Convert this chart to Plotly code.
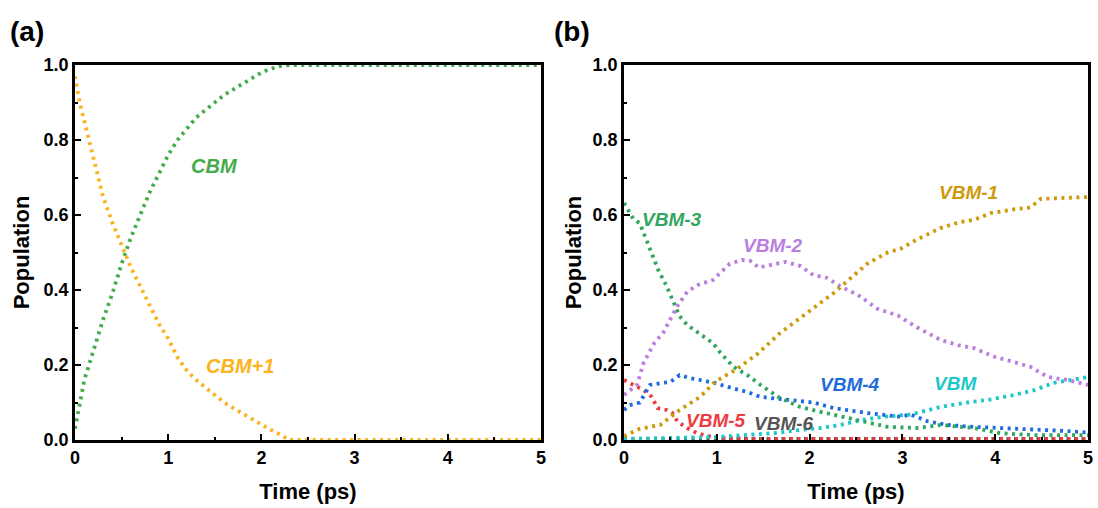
import plotly.graph_objects as go

# ---------------- Panel (a) ----------------
t_cbm = [0, 0.05, 0.1, 0.2, 0.3, 0.4, 0.5, 0.6, 0.7, 0.8, 0.9, 1.0, 1.1, 1.2, 1.3,
         1.4, 1.5, 1.6, 1.7, 1.8, 1.9, 2.0, 2.1, 2.2, 2.3, 5.0]
cbm = [0.03, 0.10, 0.16, 0.24, 0.32, 0.39, 0.47, 0.54, 0.60, 0.66, 0.71, 0.76, 0.80, 0.83, 0.86,
       0.88, 0.90, 0.92, 0.935, 0.95, 0.965, 0.98, 0.99, 0.997, 1.0, 1.0]

t_cbm1 = [0, 0.05, 0.1, 0.15, 0.2, 0.3, 0.4, 0.5, 0.6, 0.7, 0.8, 0.9, 1.0, 1.1, 1.2, 1.3,
          1.4, 1.5, 1.6, 1.7, 1.8, 1.9, 2.0, 2.1, 2.2, 2.3, 5.0]
cbm1 = [0.97, 0.90, 0.85, 0.80, 0.74, 0.65, 0.58, 0.52, 0.46, 0.41, 0.36, 0.31, 0.27, 0.22, 0.185, 0.16,
        0.14, 0.12, 0.10, 0.085, 0.07, 0.055, 0.04, 0.027, 0.015, 0.0, 0.0]

# ---------------- Panel (b) ----------------
t_v1 = [0, 0.17, 0.39, 0.6, 0.82, 0.98, 1.22, 1.44, 1.68, 1.9, 2.26, 2.62, 2.84, 2.98, 3.16,
        3.41, 3.6, 3.77, 3.95, 4.2, 4.38, 4.49, 4.71, 5.0]
vbm1 = [0.01, 0.03, 0.04, 0.08, 0.115, 0.155, 0.19, 0.23, 0.285, 0.325, 0.392, 0.47, 0.50, 0.51, 0.535,
        0.565, 0.58, 0.587, 0.605, 0.615, 0.62, 0.643, 0.645, 0.648]

t_v2 = [0, 0.14, 0.21, 0.33, 0.42, 0.57, 0.68, 0.79, 0.96, 1.04, 1.14, 1.27, 1.36, 1.45, 1.58,
        1.74, 1.9, 2.04, 2.19, 2.33, 2.52, 2.73, 2.95, 3.16, 3.41, 3.6, 3.77, 3.99, 4.2, 4.38,
        4.57, 4.78, 5.0]
vbm2 = [0.12, 0.147, 0.205, 0.26, 0.285, 0.355, 0.395, 0.413, 0.427, 0.445, 0.47, 0.48, 0.478, 0.46, 0.467,
        0.475, 0.464, 0.44, 0.432, 0.41, 0.387, 0.35, 0.332, 0.30, 0.267, 0.253, 0.245, 0.222, 0.208, 0.195,
        0.168, 0.16, 0.147]

t_v3 = [0, 0.1, 0.17, 0.23, 0.28, 0.37, 0.46, 0.53, 0.6, 0.68, 0.79, 0.96, 1.04, 1.18, 1.33,
        1.47, 1.68, 1.9, 2.12, 2.33, 2.62, 2.84, 3.16, 3.41, 3.77, 4.06, 4.42, 5.0]
vbm3 = [0.632, 0.59, 0.578, 0.54, 0.507, 0.453, 0.41, 0.373, 0.33, 0.307, 0.288, 0.258, 0.232, 0.195, 0.173,
        0.147, 0.112, 0.088, 0.075, 0.063, 0.048, 0.035, 0.032, 0.04, 0.032, 0.018, 0.013, 0.013]

t_v4 = [0, 0.06, 0.17, 0.28, 0.41, 0.5, 0.6, 0.71, 0.82, 0.98, 1.11, 1.33, 1.47, 1.76, 2.04,
        2.26, 2.62, 2.98, 3.09, 3.27, 3.49, 3.77, 4.06, 4.42, 4.68, 5.0]
vbm4 = [0.08, 0.093, 0.10, 0.147, 0.152, 0.155, 0.173, 0.165, 0.16, 0.152, 0.142, 0.128, 0.115, 0.107, 0.10,
        0.085, 0.072, 0.062, 0.068, 0.05, 0.04, 0.035, 0.032, 0.029, 0.025, 0.02]

t_v0 = [0, 0.5, 1.0, 1.29, 1.61, 1.9, 2.12, 2.33, 2.55, 2.8, 3.09, 3.2, 3.41, 3.7, 3.95,
        4.2, 4.42, 4.63, 4.85, 5.0]
vbm0 = [0.003, 0.005, 0.008, 0.013, 0.018, 0.027, 0.032, 0.04, 0.053, 0.062, 0.068, 0.075, 0.088, 0.10, 0.108,
        0.12, 0.133, 0.152, 0.16, 0.168]

t_v5 = [0, 0.1, 0.21, 0.3, 0.36, 0.46, 0.52, 0.58, 0.68, 0.79, 0.9, 1.0, 1.5, 5.0]
vbm5 = [0.16, 0.147, 0.133, 0.115, 0.085, 0.08, 0.072, 0.048, 0.032, 0.018, 0.01, 0.005, 0.003, 0.003]

t_v6 = [0, 5.0]
vbm6 = [0.003, 0.003]

x_ticks = [0, 1, 2, 3, 4, 5]
y_ticks = [0.0, 0.2, 0.4, 0.6, 0.8, 1.0]

C_CBM = "#44AC4A"
C_CBM1 = "#FBB320"
C_V1 = "#CC9A0A"
C_V2 = "#B97EE0"
C_V3 = "#31A65E"
C_V4 = "#1E6BDB"
C_V0 = "#1CC6C9"
C_V5 = "#EE3B3F"
C_V6 = "#555555"

DOT = "3px,4.5px"
LW = 3.8

fig = go.Figure()

def add(t, y, color, xa, ya):
    fig.add_trace(go.Scatter(x=t, y=y, mode="lines", xaxis=xa, yaxis=ya,
                             line=dict(color=color, width=LW, dash=DOT),
                             showlegend=False, hoverinfo="skip"))

add(t_cbm, cbm, C_CBM, "x", "y")
add(t_cbm1, cbm1, C_CBM1, "x", "y")

add(t_v6, vbm6, C_V6, "x2", "y2")
add(t_v5, vbm5, C_V5, "x2", "y2")
add(t_v0, vbm0, C_V0, "x2", "y2")
add(t_v4, vbm4, C_V4, "x2", "y2")
add(t_v3, vbm3, C_V3, "x2", "y2")
add(t_v2, vbm2, C_V2, "x2", "y2")
add(t_v1, vbm1, C_V1, "x2", "y2")

FONT = "Arial, 'Liberation Sans', sans-serif"

axis_common = dict(
    showline=True, linecolor="black", linewidth=2.5, mirror=True,
    ticks="inside", ticklen=6, tickwidth=2, tickcolor="black",
    showgrid=False, zeroline=False, automargin=False,
    tickfont=dict(family=FONT, size=18, color="black", weight="bold"),
    minor=dict(ticks="inside", ticklen=3.5, tickwidth=2, tickcolor="black"),
)

xd1 = [75 / 1098, 541 / 1098]
xd2 = [624 / 1098, 1088 / 1098]
yd = [68 / 508, 443 / 508]

title_font = dict(family=FONT, size=22, color="black", weight="bold")

fig.update_layout(
    width=1098, height=508,
    margin=dict(l=0, r=0, t=0, b=0, autoexpand=False),
    plot_bgcolor="white", paper_bgcolor="white",
    xaxis=dict(domain=xd1, anchor="y", range=[0, 5], tickvals=x_ticks,
               ticktext=[str(v) for v in x_ticks],
               title=dict(text="Time (ps)", font=title_font, standoff=17),
               **axis_common),
    yaxis=dict(domain=yd, anchor="x", range=[0, 1], tickvals=y_ticks,
               ticktext=[f"{v:.1f}" for v in y_ticks],
               title=dict(text="Population", font=title_font, standoff=8),
               **axis_common),
    xaxis2=dict(domain=xd2, anchor="y2", range=[0, 5], tickvals=x_ticks,
                ticktext=[str(v) for v in x_ticks],
                title=dict(text="Time (ps)", font=title_font, standoff=17),
                **axis_common),
    yaxis2=dict(domain=yd, anchor="x2", range=[0, 1], tickvals=y_ticks,
                ticktext=[f"{v:.1f}" for v in y_ticks],
                title=dict(text="Population", font=title_font, standoff=5),
                **axis_common),
)
fig.update_xaxes(minor_dtick=0.5, minor_tick0=0)
fig.update_yaxes(minor_dtick=0.1, minor_tick0=0)

def label(text, x, y, color, xref, yref, size=19):
    fig.add_annotation(text=f"<b><i>{text}</i></b>", x=x, y=y, xref=xref, yref=yref,
                       showarrow=False, font=dict(family=FONT, size=size, color=color))

label("CBM", 1.5, 0.73, C_CBM, "x", "y", 20)
label("CBM+1", 1.77, 0.197, C_CBM1, "x", "y", 20)
label("VBM-3", 0.52, 0.587, C_V3, "x2", "y2")
label("VBM-2", 1.61, 0.52, C_V2, "x2", "y2")
label("VBM-1", 3.71, 0.66, C_V1, "x2", "y2")
label("VBM-4", 2.44, 0.147, C_V4, "x2", "y2")
label("VBM", 3.57, 0.152, C_V0, "x2", "y2")
label("VBM-5", 0.99, 0.053, C_V5, "x2", "y2")
label("VBM-6", 1.72, 0.045, C_V6, "x2", "y2")

for txt, px in [("(a)", 27), ("(b)", 572)]:
    fig.add_annotation(text=f"<b>{txt}</b>", x=px / 1098, y=1 - 31 / 508, xref="paper", yref="paper",
                       showarrow=False, xanchor="center", yanchor="middle",
                       font=dict(family=FONT, size=28, color="black"))

fig.write_html("out.html")
